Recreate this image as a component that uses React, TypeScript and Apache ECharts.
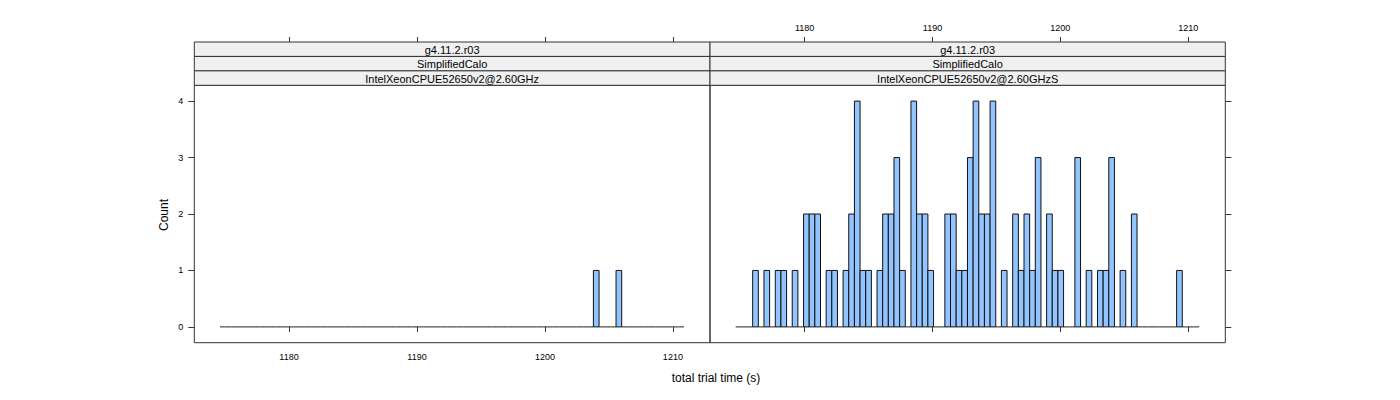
import React, { useEffect, useRef } from "react";
import * as echarts from "echarts";

// Histogram breaks (bin start and width, in seconds)
const binStart = 1174.61;
const binWidth = 0.4421;

// Counts per bin, left panel (IntelXeonCPUE52650v2@2.60GHz)
const leftCounts = [
  0, 0, 0, 0, 0, 0, 0, 0, 0, 0,
  0, 0, 0, 0, 0, 0, 0, 0, 0, 0,
  0, 0, 0, 0, 0, 0, 0, 0, 0, 0,
  0, 0, 0, 0, 0, 0, 0, 0, 0, 0,
  0, 0, 0, 0, 0, 0, 0, 0, 0, 0,
  0, 0, 0, 0, 0, 0, 0, 0, 0, 0,
  0, 0, 0, 0, 0, 0, 1, 0, 0, 0,
  1, 0, 0, 0, 0, 0, 0, 0, 0, 0,
  0, 0,
];

// Counts per bin, right panel (IntelXeonCPUE52650v2@2.60GHzS)
const rightCounts = [
  0, 0, 0, 1, 0, 1, 0, 1, 1, 0,
  1, 0, 2, 2, 2, 0, 1, 1, 0, 1,
  2, 4, 1, 1, 0, 1, 2, 2, 3, 1,
  0, 4, 2, 2, 1, 0, 0, 2, 2, 1,
  1, 3, 4, 2, 2, 4, 0, 1, 0, 2,
  1, 2, 1, 3, 0, 2, 1, 1, 0, 0,
  3, 0, 1, 0, 1, 1, 3, 0, 1, 0,
  2, 0, 0, 0, 0, 0, 0, 0, 1, 0,
  0, 0,
];

const xTicks = [1180, 1190, 1200, 1210];
const yTicks = [0, 1, 2, 3, 4];
const stripLabels = [
  ["g4.11.2.r03", "SimplifiedCalo", "IntelXeonCPUE52650v2@2.60GHz"],
  ["g4.11.2.r03", "SimplifiedCalo", "IntelXeonCPUE52650v2@2.60GHzS"],
];
const xLabel = "total trial time (s)";
const yLabel = "Count";

const X_MIN = 1172.6;
const X_MAX = 1212.9;
const Y_MIN = -0.28;
const Y_MAX = 4.28;

const FONT = "'Liberation Sans', Arial, Helvetica, sans-serif";
const AXIS_COL = "#333";
const BAR_FILL = "#92C5FF";

const PANEL_TOP = 85.3;
const PANEL_H = 257.4;
const PANELS = [
  { left: 194.3, width: 515.7 },
  { left: 710, width: 515.3 },
];
const STRIP_H = 14.43;

function histData(counts: number[]) {
  return counts.map((c, k) => [binStart + k * binWidth, binStart + (k + 1) * binWidth, c]);
}

function renderBar(params: any, api: any) {
  const x0 = api.value(0);
  const x1 = api.value(1);
  const c = api.value(2);
  const p0 = api.coord([x0, 0]);
  const p1 = api.coord([x1, c]);
  if (c <= 0) {
    return {
      type: "line",
      shape: { x1: p0[0], y1: p0[1], x2: p1[0], y2: p0[1] },
      style: { stroke: "#222", lineWidth: 1 },
    };
  }
  return {
    type: "rect",
    shape: { x: p0[0], y: p1[1], width: p1[0] - p0[0], height: p0[1] - p1[1] },
    style: { fill: BAR_FILL, stroke: "#111", lineWidth: 1 },
  };
}

function xAxisDef(gridIndex: number, position: string, showLabels: boolean, offset: number) {
  return {
    type: "value",
    gridIndex,
    position,
    offset,
    min: X_MIN,
    max: X_MAX,
    axisLine: { show: false },
    splitLine: { show: false },
    axisTick: {
      show: true,
      inside: false,
      length: 5,
      customValues: xTicks,
      lineStyle: { color: AXIS_COL, width: 1 },
    },
    axisLabel: {
      show: showLabels,
      customValues: xTicks,
      margin: position === "top" ? 10 : 10,
      fontSize: 9,
      fontFamily: FONT,
      color: "#000",
      formatter: (v: number) => String(Math.round(v)),
    },
  };
}

function yAxisDef(gridIndex: number, position: string, showLabels: boolean) {
  return {
    type: "value",
    gridIndex,
    position,
    min: Y_MIN,
    max: Y_MAX,
    axisLine: { show: false },
    splitLine: { show: false },
    axisTick: {
      show: true,
      inside: false,
      length: 6,
      customValues: yTicks,
      lineStyle: { color: AXIS_COL, width: 1 },
    },
    axisLabel: {
      show: showLabels,
      customValues: yTicks,
      margin: 11,
      fontSize: 9,
      fontFamily: FONT,
      color: "#000",
      formatter: (v: number) => String(Math.round(v)),
    },
  };
}

function stripGraphics() {
  const els: any[] = [];
  PANELS.forEach((p, i) => {
    stripLabels[i].forEach((label, r) => {
      const y = PANEL_TOP - STRIP_H * (3 - r);
      els.push({
        type: "rect",
        shape: { x: p.left, y, width: p.width, height: STRIP_H },
        style: { fill: "#F0F0F0", stroke: AXIS_COL, lineWidth: 1 },
        z: 10,
      });
      els.push({
        type: "text",
        x: p.left + p.width / 2,
        y: y + STRIP_H / 2 + 0.5,
        style: {
          text: label,
          fontSize: 11,
          fontFamily: FONT,
          fill: "#000",
          align: "center",
          verticalAlign: "middle",
          textAlign: "center",
          textVerticalAlign: "middle",
        },
        z: 11,
      });
    });
  });
  els.push({
    type: "text",
    x: 716,
    y: 378,
    style: {
      text: xLabel,
      fontSize: 12,
      fontFamily: FONT,
      fill: "#000",
      align: "center",
      verticalAlign: "middle",
      textAlign: "center",
      textVerticalAlign: "middle",
    },
  });
  els.push({
    type: "text",
    x: 164,
    y: 215,
    rotation: Math.PI / 2,
    style: {
      text: yLabel,
      fontSize: 12,
      fontFamily: FONT,
      fill: "#000",
      align: "center",
      verticalAlign: "middle",
      textAlign: "center",
      textVerticalAlign: "middle",
    },
  });
  return els;
}

export default function App() {
  const ref = useRef<HTMLDivElement>(null);
  useEffect(() => {
    if (!ref.current) return;
    const chart = echarts.init(ref.current, null, { renderer: "svg" });
    const option: any = {
      animation: false,
      backgroundColor: "#fff",
      grid: PANELS.map((p) => ({
        left: p.left,
        top: PANEL_TOP,
        width: p.width,
        height: PANEL_H,
        show: true,
        borderColor: AXIS_COL,
        borderWidth: 1,
        backgroundColor: "transparent",
        containLabel: false,
      })),
      xAxis: [
        xAxisDef(0, "bottom", true, 0),
        xAxisDef(0, "top", false, STRIP_H * 3),
        xAxisDef(1, "bottom", false, 0),
        xAxisDef(1, "top", true, STRIP_H * 3),
      ],
      yAxis: [yAxisDef(0, "left", true), yAxisDef(1, "right", false)],
      series: [
        {
          type: "custom",
          xAxisIndex: 0,
          yAxisIndex: 0,
          renderItem: renderBar,
          data: histData(leftCounts),
          clip: false,
        },
        {
          type: "custom",
          xAxisIndex: 2,
          yAxisIndex: 1,
          renderItem: renderBar,
          data: histData(rightCounts),
          clip: false,
        },
      ],
      graphic: stripGraphics(),
    };
    chart.setOption(option);
    return () => chart.dispose();
  }, []);
  return (
    <div
      ref={ref}
      style={{ position: "absolute", left: 0, top: 0, width: 1400, height: 400 }}
    />
  );
}
